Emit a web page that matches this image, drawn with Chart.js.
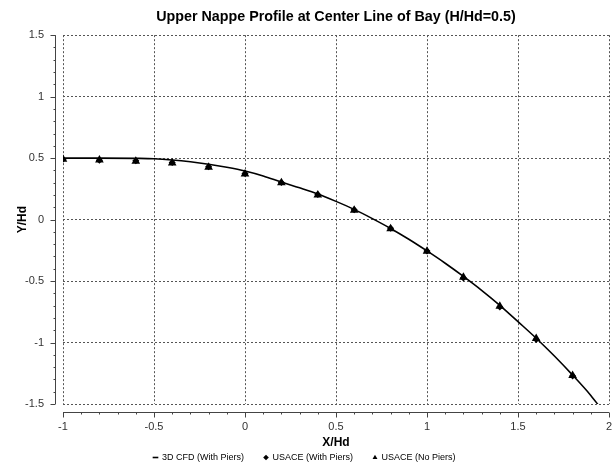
<!DOCTYPE html>
<html>
<head>
<meta charset="utf-8">
<script src="https://cdn.jsdelivr.net/npm/chart.js@4/dist/chart.umd.min.js"></script>
<style>
  html, body { margin: 0; padding: 0; background: #fff; }
  #wrap { width: 616px; height: 466px; }
</style>
</head>
<body>
<div id="wrap"><canvas id="c" width="616" height="466"></canvas></div>
<script>
// ---- data ----
const cfdX = [-1.0, -0.8, -0.6, -0.5, -0.4, -0.3, -0.2, -0.1, 0.0, 0.1, 0.2, 0.3, 0.4, 0.5, 0.6, 0.7, 0.8, 0.9, 1.0, 1.1, 1.2, 1.3, 1.4, 1.5, 1.6, 1.7, 1.8, 1.9, 1.95];
const cfdY = [0.500, 0.500, 0.498, 0.495, 0.485, 0.470, 0.450, 0.425, 0.395, 0.355, 0.305, 0.258, 0.208, 0.148, 0.083, 0.008, -0.072, -0.160, -0.255, -0.355, -0.462, -0.575, -0.697, -0.830, -0.965, -1.110, -1.265, -1.430, -1.525];
const usaceX = [-1.0, -0.8, -0.6, -0.4, -0.2, 0.0, 0.2, 0.4, 0.6, 0.8, 1.0, 1.2, 1.4, 1.6, 1.8];
const usacePiersY = [0.490, 0.482, 0.478, 0.465, 0.430, 0.375, 0.302, 0.203, 0.079, -0.071, -0.255, -0.475, -0.712, -0.975, -1.272];
const usaceNoPiersY = [0.490, 0.484, 0.475, 0.460, 0.425, 0.371, 0.300, 0.200, 0.075, -0.075, -0.258, -0.470, -0.705, -0.968, -1.269];
const xTicks = [-1, -0.5, 0, 0.5, 1, 1.5, 2];
const yTicks = [-1.5, -1, -0.5, 0, 0.5, 1, 1.5];
const seriesNames = ['3D CFD (With Piers)', 'USACE (With Piers)', 'USACE (No Piers)'];
const chartTitle = 'Upper Nappe Profile at Center Line of Bay (H/Hd=0.5)';
const xTitle = 'X/Hd';
const yTitle = 'Y/Hd';

const toPts = (xs, ys) => xs.map((x, i) => ({ x: x, y: ys[i] }));

const LEGEND_H = 33;

// offset axis lines with minor ticks (JFreeChart style) + compact legend box
const offsetAxes = {
  id: 'offsetAxes',
  beforeLayout(chart) {
    const lg = chart.legend;
    if (lg && !lg._patched) {
      const orig = lg.fit.bind(lg);
      lg.fit = function () { orig(); this.height = LEGEND_H; };
      lg._patched = true;
    }
  },
  afterDraw(chart) {
    const ctx = chart.ctx;
    const xs = chart.scales.x, ys = chart.scales.y;
    const a = chart.chartArea;
    const gap = 8;
    ctx.save();
    ctx.strokeStyle = '#444';
    ctx.lineWidth = 1;
    // y axis
    const ax = Math.round(a.left - gap) + 0.5;
    ctx.beginPath();
    ctx.moveTo(ax, ys.getPixelForValue(ys.max));
    ctx.lineTo(ax, ys.getPixelForValue(ys.min));
    for (let i = 0; i <= 30; i++) {
      const v = ys.min + i * 0.1;
      const p = Math.round(ys.getPixelForValue(v)) + 0.5;
      const len = (i % 5 === 0) ? 5 : 2;
      ctx.moveTo(ax, p);
      ctx.lineTo(ax - len, p);
    }
    ctx.stroke();
    // x axis
    const ay = Math.round(a.bottom + gap) + 0.5;
    ctx.beginPath();
    ctx.moveTo(xs.getPixelForValue(xs.min), ay);
    ctx.lineTo(xs.getPixelForValue(xs.max), ay);
    for (let i = 0; i <= 30; i++) {
      const v = xs.min + i * 0.1;
      const p = Math.round(xs.getPixelForValue(v)) + 0.5;
      const len = (i % 5 === 0) ? 5 : 2;
      ctx.moveTo(p, ay);
      ctx.lineTo(p, ay + len);
    }
    ctx.stroke();
    ctx.restore();
  }
};

const tickFont = { family: 'Liberation Sans, Arial, sans-serif', size: 11 };

new Chart(document.getElementById('c'), {
  type: 'scatter',
  data: {
    datasets: [
      {
        label: seriesNames[0],
        data: toPts(cfdX, cfdY),
        showLine: true,
        borderColor: '#000',
        backgroundColor: '#000',
        borderWidth: 1.6,
        pointRadius: 0,
        pointStyle: 'line',
        cubicInterpolationMode: 'monotone',
        order: 3
      },
      {
        label: seriesNames[1],
        data: toPts(usaceX, usacePiersY),
        showLine: false,
        pointStyle: 'rectRot',
        pointRadius: 3.5,
        borderWidth: 0,
        backgroundColor: '#000',
        borderColor: '#000',
        order: 2
      },
      {
        label: seriesNames[2],
        data: toPts(usaceX, usaceNoPiersY),
        showLine: false,
        pointStyle: 'triangle',
        pointRadius: 5,
        borderWidth: 0,
        backgroundColor: '#000',
        borderColor: '#000',
        order: 1
      }
    ]
  },
  options: {
    responsive: false,
    animation: false,
    devicePixelRatio: 1,
    layout: { padding: { left: 0, right: 7, top: 0, bottom: 0 } },
    plugins: {
      title: {
        display: true,
        text: chartTitle,
        fullSize: false,
        color: '#000',
        font: { family: 'Liberation Sans, Arial, sans-serif', size: 14.3, weight: 'bold' },
        padding: { top: 8, bottom: 10 }
      },
      legend: {
        position: 'bottom',
        labels: {
          usePointStyle: true,
          boxWidth: 4,
          boxHeight: 4,
          padding: 20,
          color: '#000',
          font: { family: 'Liberation Sans, Arial, sans-serif', size: 9 },
          sort: (a, b) => a.datasetIndex - b.datasetIndex
        }
      },
      tooltip: { enabled: false }
    },
    scales: {
      x: {
        type: 'linear',
        min: -1, max: 2,
        afterBuildTicks: (s) => { s.ticks = xTicks.map(v => ({ value: v })); },
        afterFit: (s) => { s.height = s.chart.height - 404 - LEGEND_H; },
        ticks: { color: '#333', font: tickFont, padding: 0, maxRotation: 0,
                 callback: (v) => String(v) },
        grid: { color: '#555', lineWidth: 1, drawTicks: true, tickLength: 16,
                tickColor: 'rgba(0,0,0,0)' },
        border: { display: false, dash: [2, 2] },
        title: { display: true, text: xTitle, color: '#000',
                 font: { family: 'Liberation Sans, Arial, sans-serif', size: 12, weight: 'bold' },
                 padding: { top: 0, bottom: -17 } }
      },
      y: {
        type: 'linear',
        min: -1.5, max: 1.5,
        afterBuildTicks: (s) => { s.ticks = yTicks.map(v => ({ value: v })); },
        afterFit: (s) => { s.width = 63; },
        ticks: { color: '#333', font: tickFont, padding: 19,
                 callback: (v) => String(v) },
        grid: { color: '#555', lineWidth: 1, drawTicks: false },
        border: { display: false, dash: [2, 2] },
        title: { display: true, text: yTitle, color: '#000',
                 font: { family: 'Liberation Sans, Arial, sans-serif', size: 12, weight: 'bold' },
                 padding: { top: 15, bottom: 0 } }
      }
    }
  },
  plugins: [offsetAxes]
});
</script>
</body>
</html>
